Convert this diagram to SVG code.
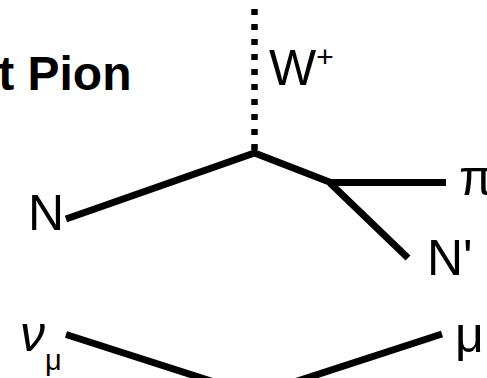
<svg xmlns="http://www.w3.org/2000/svg" width="487" height="378" viewBox="0 0 487 378">
<style>
.t{font-family:"Liberation Sans",Arial,sans-serif;fill:#000}
.ln{stroke:#000;stroke-width:7;fill:none;stroke-linecap:butt}
.w{stroke:#000;stroke-width:6.5;fill:none;stroke-dasharray:6 9;stroke-dashoffset:6}
</style>
<rect width="487" height="378" fill="#fff"/>
<g id="connectors">
<line class="w" x1="254.5" y1="0" x2="254.5" y2="153"/>
<polyline class="ln" points="66,219 254.5,153 332,183" stroke-linejoin="miter"/>
<line class="ln" x1="328" y1="182.5" x2="446" y2="182.5"/>
<line class="ln" x1="330" y1="183" x2="408" y2="258"/>
<polyline class="ln" points="66,334.5 254.5,395 442,334"/>
</g>
<g id="title"><text class="t" x="131.5" y="90" font-size="48" font-weight="bold" text-anchor="end">t Pion</text></g>
<g id="W"><text class="t" x="269" y="85" font-size="50">W<tspan font-size="30" dy="-18">+</tspan></text></g>
<g id="N"><text class="t" x="28" y="230" font-size="50">N</text></g>
<g id="pi"><text class="t" x="459" y="195" font-size="50">π</text></g>
<g id="Nprime"><text class="t" x="427" y="275" font-size="50">N'</text></g>
<g id="nu"><text class="t" x="20" y="351" font-size="50" font-style="italic">ν<tspan font-size="29" font-style="normal" dy="19">μ</tspan></text></g>
<g id="mu"><text class="t" x="455" y="352" font-size="50">μ</text></g>
</svg>
